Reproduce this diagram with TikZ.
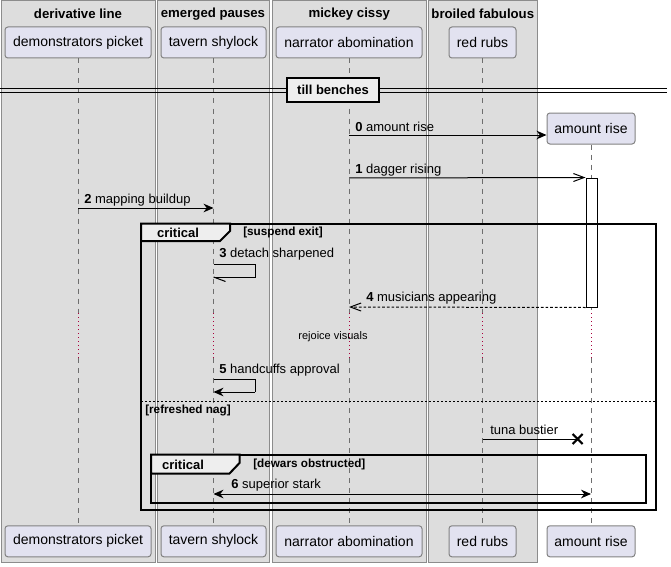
\documentclass[tikz,border=0pt]{standalone}
\usepackage{fontspec}
\setmainfont{Liberation Sans}
\usetikzlibrary{arrows.meta}

\definecolor{grpfill}{RGB}{221,221,221}
\definecolor{grpline}{RGB}{140,140,140}
\definecolor{partfill}{RGB}{226,226,240}
\definecolor{partline}{RGB}{130,130,130}
\definecolor{tabfill}{RGB}{238,238,238}
\definecolor{lifegray}{RGB}{110,110,110}
\definecolor{delayred}{RGB}{170,0,60}

\tikzset{
  grp/.style={draw=grpline, fill=grpfill, line width=0.75pt},
  grptitle/.style={font=\fontsize{9.9}{11}\selectfont\bfseries, inner sep=0pt},
  part/.style={draw=partline, fill=partfill, rounded corners=2.2pt, line width=0.75pt,
    font=\fontsize{10.5}{12}\selectfont, inner sep=0pt, minimum height=23.25pt},
  life/.style={draw=lifegray, line width=0.6pt, dash pattern=on 3.75pt off 3.75pt},
  delay/.style={draw=delayred, line width=0.75pt, dash pattern=on 0.75pt off 2.25pt},
  msg/.style={line width=0.75pt, -{Stealth[length=7.5pt,width=6.5pt,inset=2.4pt]}},
  bimsg/.style={line width=0.75pt, {Stealth[length=7.5pt,width=6.5pt,inset=2.4pt]}-{Stealth[length=7.5pt,width=6.5pt,inset=2.4pt]}},
  openmsg/.style={line width=0.75pt, -{Straight Barb[length=8pt,width=6pt,line width=0.75pt]}},
  mlabel/.style={font=\fontsize{9.75}{11}\selectfont, anchor=west, inner sep=0pt},
  frame/.style={draw=black, line width=1.5pt},
  tab/.style={draw=black, line width=1.5pt, fill=tabfill},
  tabtitle/.style={font=\fontsize{9.75}{11}\selectfont\bfseries, inner sep=0pt},
  guard/.style={font=\fontsize{8.8}{10}\selectfont\bfseries, anchor=west, inner sep=0pt},
  act/.style={draw=black, fill=white, line width=0.75pt, inner sep=0pt}
}

\begin{document}
\begin{tikzpicture}[x=0.75pt, y=-0.75pt]
\useasboundingbox (0,0) rectangle (671,567);

% grouping boxes
\draw[grp] (1,1) rectangle (155,562);
\draw[grp] (157,1) rectangle (269,562);
\draw[grp] (272,1) rectangle (426.7,562);
\draw[grp] (428.7,1) rectangle (537,562);
\node[grptitle] (g1t) at (78,14) {derivative line};
\node[grptitle] (g2t) at (213,14) {emerged pauses};
\node[grptitle] (g3t) at (349.3,14) {mickey cissy};
\node[grptitle] (g4t) at (482.8,14) {broiled fabulous};

% participants, top row
\node[part, minimum width=109.5pt] (dp) at (78,42.5) {demonstrators picket};
\node[part, minimum width=78.75pt] (ts) at (213.5,42.5) {tavern shylock};
\node[part, minimum width=109.5pt] (na) at (349,42.5) {narrator abomination};
\node[part, minimum width=50.25pt] (rr) at (482.5,42.5) {red rubs};
\node[part, minimum width=66pt] (ar) at (591,128.5) {amount rise};

% participants, bottom row
\node[part, minimum width=109.5pt] (dpb) at (78,541.3) {demonstrators picket};
\node[part, minimum width=78.75pt] (tsb) at (213.5,541.3) {tavern shylock};
\node[part, minimum width=109.5pt] (nab) at (349,541.3) {narrator abomination};
\node[part, minimum width=50.25pt] (rrb) at (482.5,541.3) {red rubs};
\node[part, minimum width=66pt] (arb) at (591,541.3) {amount rise};

% rows
\coordinate (dl1) at (0,313);
\coordinate (dl2) at (0,358);
\coordinate (r0) at (0,135);
\coordinate (r1) at (0,178);
\coordinate (r2) at (0,208);
\coordinate (r3a) at (0,264);
\coordinate (r3b) at (0,277);
\coordinate (r4) at (0,307);
\coordinate (r5a) at (0,379);
\coordinate (r5b) at (0,392);
\coordinate (r7) at (0,439);
\coordinate (r6) at (0,494);
\coordinate (selfx) at (255,0);
\coordinate (xm) at (577.7,439);

% lifelines with the delay section
\foreach \p in {dp,ts,na,rr,ar}{
  \draw[life] (\p.south) -- (\p.south |- dl1);
  \draw[delay] (\p.south |- dl1) -- (\p.south |- dl2);
  \draw[life] (\p.south |- dl2) -- (\p b.north);
}

% divider
\draw[line width=0.75pt] (0,88.7) -- (667,88.7);
\draw[line width=0.75pt] (0,92.3) -- (667,92.3);
\node[draw=black, line width=1.5pt, fill=tabfill, minimum width=69pt, minimum height=18pt,
  inner sep=0pt, font=\fontsize{9.75}{11}\selectfont\bfseries] (div) at (333,90) {till benches};

% activation
\node[act, minimum width=8.25pt, minimum height=96.75pt] (actv) at (591.5,242.5) {};

% messages
\draw[msg] (na |- r0) -- (ar.west |- r0);
\node[mlabel] (l0) at (355,127) {\textbf{0} amount rise};

\draw[openmsg] (na |- r1) -- (actv.north west);
\node[mlabel] (l1) at (355,170) {\textbf{1} dagger rising};

\draw[msg] (dp |- r2) -- (ts |- r2);
\node[mlabel] (l2) at (84,200) {\textbf{2} mapping buildup};

\draw[line width=0.75pt] (ts |- r3a) -- (selfx |- r3a) -- (selfx |- r3b) -- (ts |- r3b);
\draw[line width=0.75pt] (ts |- r3b) -- ++(12,4.5);
\node[mlabel] (l3) at (219,254.5) {\textbf{3} detach sharpened};

\draw[openmsg, dash pattern=on 2pt off 1.5pt] (actv.south west) -- (na |- r4);
\node[mlabel] (l4) at (366,298.5) {\textbf{4} musicians appearing};

\node[font=\fontsize{8.25}{10}\selectfont, inner sep=0pt] (dtx) at (333,337) {rejoice visuals};

\draw[line width=0.75pt] (ts |- r5a) -- (selfx |- r5a) -- (selfx |- r5b);
\draw[msg] (selfx |- r5b) -- (ts |- r5b);
\node[mlabel] (l5) at (219,370) {\textbf{5} handcuffs approval};

\draw[line width=0.75pt] (rr |- r7) -- (xm);
\draw[line width=1.6pt] (xm) ++(-5,-5) -- ++(10,10) (xm) ++(-5,5) -- ++(10,-10);
\node[mlabel] (l7) at (490,430) {tuna bustier};

\draw[bimsg] (ts |- r6) -- (ar |- r6);
\node[mlabel] (l6) at (231,485) {\textbf{6} superior stark};

% outer critical frame
\draw[frame] (141,223.5) rectangle (655.5,509.5);
\draw[tab] (141,223.5) -- (230,223.5) -- (230,231) -- (220,241) -- (141,241) -- cycle;
\node[tabtitle] (c1) at (178,232.5) {critical};
\node[guard] (g1) at (243,232.5) {[suspend exit]};
\draw[line width=0.75pt, dash pattern=on 1.5pt off 1.5pt] (141,401) -- (655.5,401);
\node[guard] (g2) at (145,410) {[refreshed nag]};

% inner critical frame
\draw[frame] (151,454.5) rectangle (645.5,502.5);
\draw[tab] (151,454.5) -- (239.5,454.5) -- (239.5,463) -- (229.5,473.5) -- (151,473.5) -- cycle;
\node[tabtitle] (c2) at (183,464.5) {critical};
\node[guard] (g3) at (253,464) {[dewars obstructed]};

\end{tikzpicture}
\end{document}
